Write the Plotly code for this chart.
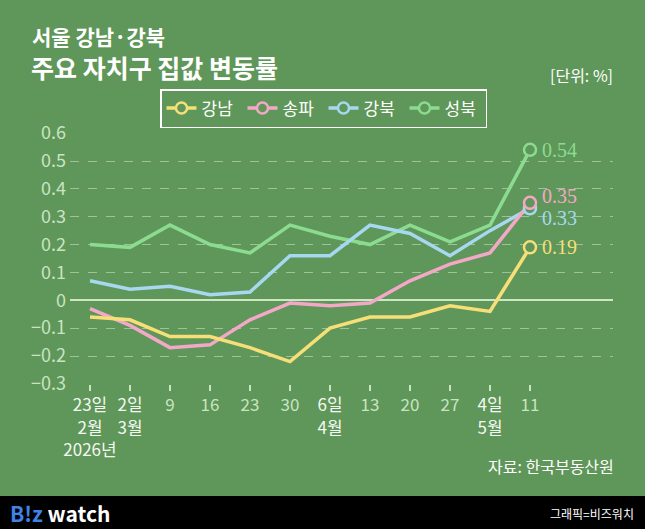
import plotly.graph_objects as go

# ---- data ----
x_idx = list(range(12))
tick_labels = ["23일<br>2월<br>2026년", "2일<br>3월", "9", "16", "23", "30",
               "6일<br>4월", "13", "20", "27", "4일<br>5월", "11"]
series_names = ["강남", "송파", "강북", "성북"]
gangnam = [-0.06, -0.07, -0.13, -0.13, -0.17, -0.22, -0.10, -0.06, -0.06, -0.02, -0.04, 0.19]
songpa = [-0.03, -0.09, -0.17, -0.16, -0.07, -0.01, -0.02, -0.01, 0.07, 0.13, 0.17, 0.35]
gangbuk = [0.07, 0.04, 0.05, 0.02, 0.03, 0.16, 0.16, 0.27, 0.24, 0.16, 0.25, 0.33]
seongbuk = [0.20, 0.19, 0.27, 0.20, 0.17, 0.27, 0.23, 0.20, 0.27, 0.21, 0.27, 0.54]
y_ticks = [-0.3, -0.2, -0.1, 0, 0.1, 0.2, 0.3, 0.4, 0.5, 0.6]

# ---- style ----
W, H = 645, 529
L, R, T, B = 70, 32, 133, 145
BG = "#5f9659"
colors = ["#f6df78", "#f4a8c8", "#a8d8f0", "#8bdc90"]
label_yshift = [0, 7, -10, 0]
PALE = "#c9e4c1"
FONT = "Noto Sans CJK KR"

pw = W - L - R
ph = H - T - B


def px_x(px):
    return (px - L) / pw


def px_y(py):
    return (H - B - py) / ph


fig = go.Figure()
all_series = [gangnam, songpa, gangbuk, seongbuk]
draw_order = [3, 2, 1, 0]

for i in draw_order:
    fig.add_trace(go.Scatter(x=x_idx, y=all_series[i], mode="lines", showlegend=False,
                             line=dict(color=colors[i], width=3.5), hoverinfo="skip"))

for i in draw_order:
    vals, col = all_series[i], colors[i]
    fig.add_trace(go.Scatter(x=[x_idx[-1]], y=[vals[-1]], mode="markers", showlegend=False,
                             marker=dict(size=12, color=BG, line=dict(color=col, width=2.5))))
    fig.add_annotation(x=x_idx[-1], y=vals[-1], text=f"{vals[-1]:.2f}", showarrow=False,
                       xanchor="left", yanchor="middle", xshift=10, yshift=label_yshift[i],
                       font=dict(family="Liberation Serif", size=20, color=col))

for name, col in zip(series_names, colors):
    fig.add_trace(go.Scatter(x=[None], y=[None], mode="lines+markers", name=name,
                             line=dict(color=col, width=3.5),
                             marker=dict(size=11, color=BG, line=dict(color=col, width=2.5))))

ticktext = []
for t in tick_labels:
    if "<br>" in t:
        ticktext.append("<br>".join(f"<span style='color:#f4f8f2'>{p}</span>" for p in t.split("<br>")))
    else:
        ticktext.append(t)

fig.update_layout(
    width=W, height=H,
    margin=dict(l=L, r=R, t=T, b=B),
    paper_bgcolor=BG, plot_bgcolor=BG,
    font=dict(family=FONT, color=PALE, size=16),
    xaxis=dict(range=[-0.5, 13.075], tickvals=x_idx, ticktext=ticktext, tickangle=0,
               showgrid=False, zeroline=False, showline=False,
               ticks="outside", ticklen=6, tickwidth=1.5, tickcolor=PALE,
               tickfont=dict(size=17, color=PALE), fixedrange=True),
    yaxis=dict(range=[-0.3005, 0.6005], tickvals=y_ticks,
               ticktext=[("−" if v < 0 else "") + (f"{abs(v):.1f}" if v != 0 else "0") for v in y_ticks],
               showgrid=True, gridcolor="rgba(215,232,205,0.55)", griddash="dash", gridwidth=1,
               zeroline=True, zerolinecolor="#cfe6c6", zerolinewidth=2,
               showline=False, ticks="", ticklabelstandoff=3,
               tickfont=dict(size=18, color=PALE), fixedrange=True),
    legend=dict(orientation="h", x=px_x(160), y=px_y(89), xanchor="left", yanchor="top",
                bordercolor="#ffffff", borderwidth=1.5, bgcolor="rgba(0,0,0,0)",
                entrywidth=36, entrywidthmode="pixels",
                font=dict(size=17, color="#ffffff", family=FONT), itemclick=False),
    showlegend=True,
)

# footer band
fig.add_shape(type="rect", xref="paper", yref="paper", x0=px_x(-5), x1=px_x(W + 5),
              y0=px_y(496), y1=px_y(H + 5), fillcolor="#000000", line=dict(width=0), layer="below")

texts = [
    dict(text="<b>서울 강남·강북</b>", x=px_x(30), y=px_y(36), xanchor="left", size=21, color="#ffffff"),
    dict(text="<b>주요 자치구 집값 변동률</b>", x=px_x(29), y=px_y(67), xanchor="left", size=25, color="#ffffff"),
    dict(text="[단위: %]", x=px_x(615), y=px_y(75), xanchor="right", size=16, color="#ffffff"),
    dict(text="자료: 한국부동산원", x=px_x(616), y=px_y(466), xanchor="right", size=16, color="#ffffff"),
    dict(text="<b><span style='color:#3f82e8'>B!z</span> watch</b>", x=px_x(8), y=px_y(513),
         xanchor="left", size=21, color="#ffffff"),
    dict(text="그래픽=비즈워치", x=px_x(636), y=px_y(513), xanchor="right", size=12, color="#ffffff"),
]
for t in texts:
    fig.add_annotation(xref="paper", yref="paper", x=t["x"], y=t["y"], text=t["text"],
                       showarrow=False, xanchor=t["xanchor"], yanchor="middle",
                       font=dict(family=FONT, size=t["size"], color=t["color"]))

fig.write_html("out.html")
